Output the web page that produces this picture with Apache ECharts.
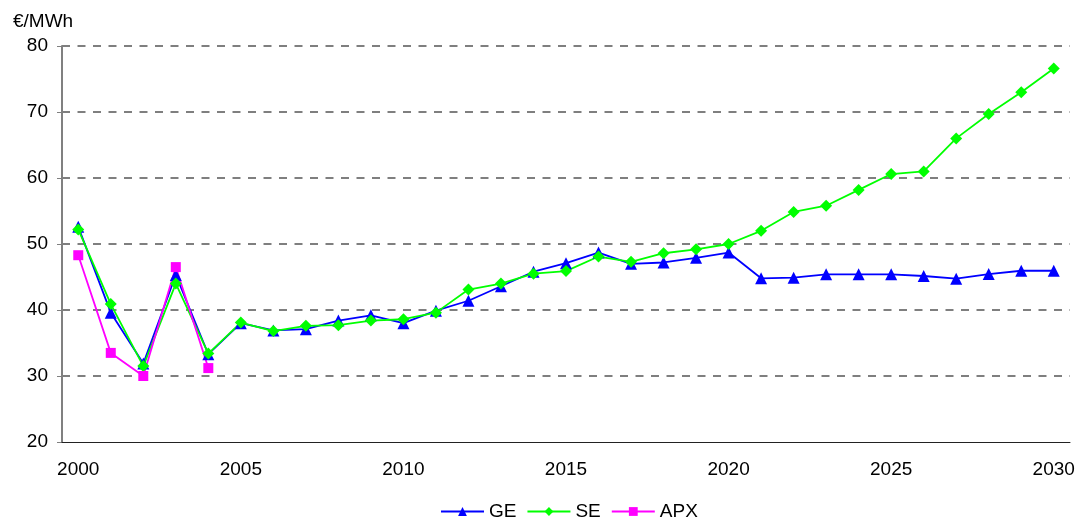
<!DOCTYPE html>
<html>
<head>
<meta charset="utf-8">
<script src="https://cdn.jsdelivr.net/npm/echarts@6/dist/echarts.min.js"></script>
<style>
  html, body { margin: 0; padding: 0; background: #fff; }
  #chart { width: 1079px; height: 526px; }
</style>
</head>
<body>
<div id="chart"></div>
<script>
// years on the x axis
var years = [];
for (var y = 2000; y <= 2030; y++) years.push(String(y));

// price series, €/MWh
var geData = [52.6, 39.6, 31.9, 45.3, 33.3, 38.0, 36.9, 37.1, 38.4, 39.2,
  38.0, 39.9, 41.4, 43.6, 45.8, 47.1, 48.7, 47.0, 47.2, 47.9,
  48.7, 44.8, 44.9, 45.4, 45.4, 45.4, 45.15, 44.75, 45.45, 45.95, 45.95];
var seData = [52.2, 40.9, 31.5, 44.0, 33.4, 38.1, 36.8, 37.6, 37.7, 38.4,
  38.6, 39.6, 43.1, 44.0, 45.5, 45.9, 48.1, 47.3, 48.6, 49.2,
  50.0, 52.0, 54.85, 55.8, 58.2, 60.6, 61.0, 66.0, 69.7, 73.0, 76.6];
var apxData = [48.3, 33.5, 30.0, 46.5, 31.2];

var font = "Liberation Sans, Arial, sans-serif";

var myChart = echarts.init(document.getElementById("chart"));
var option = {
  animation: false,
  textStyle: { fontFamily: font },
  title: {
    text: "€/MWh",
    left: 8,
    top: 7,
    textStyle: { fontSize: 19, fontWeight: "normal", color: "#000", fontFamily: font }
  },
  legend: {
    bottom: 0,
    left: 438,
    padding: [5, 2],
    itemWidth: 43,
    itemHeight: 11,
    itemGap: 10,
    textStyle: { fontSize: 19, color: "#000", fontFamily: font },
    data: ["GE", "SE", "APX"]
  },
  grid: { left: 62, right: 9, top: 46, bottom: 84 },
  xAxis: {
    type: "category",
    data: years,
    boundaryGap: true,
    z: 5,
    axisLine: { lineStyle: { color: "#222", width: 1 } },
    axisTick: { interval: 0, length: 5, lineStyle: { color: "#222" } },
    axisLabel: { interval: 4, fontSize: 19, color: "#000", margin: 18 }
  },
  yAxis: {
    type: "value",
    min: 20,
    max: 80,
    interval: 10,
    axisLine: { show: true, lineStyle: { color: "#808080", width: 2 } },
    axisTick: { show: true, length: 5, lineStyle: { color: "#808080" } },
    axisLabel: { fontSize: 19, color: "#000", margin: 14 },
    splitLine: { showMinLine: false, lineStyle: { color: "#555", type: [8, 7.5], width: 1.5 } }
  },
  series: [
    {
      name: "GE",
      type: "line",
      data: geData,
      symbol: "triangle",
      symbolSize: 12,
      lineStyle: { color: "#0000ff", width: 1.8 },
      itemStyle: { color: "#0000ff" }
    },
    {
      name: "SE",
      type: "line",
      data: seData,
      symbol: "diamond",
      symbolSize: 12,
      lineStyle: { color: "#00ff00", width: 1.8 },
      itemStyle: { color: "#00ff00" }
    },
    {
      name: "APX",
      type: "line",
      data: apxData,
      symbol: "rect",
      symbolSize: 10,
      lineStyle: { color: "#ff00ff", width: 1.8 },
      itemStyle: { color: "#ff00ff" }
    }
  ]
};
myChart.setOption(option);
</script>
</body>
</html>
